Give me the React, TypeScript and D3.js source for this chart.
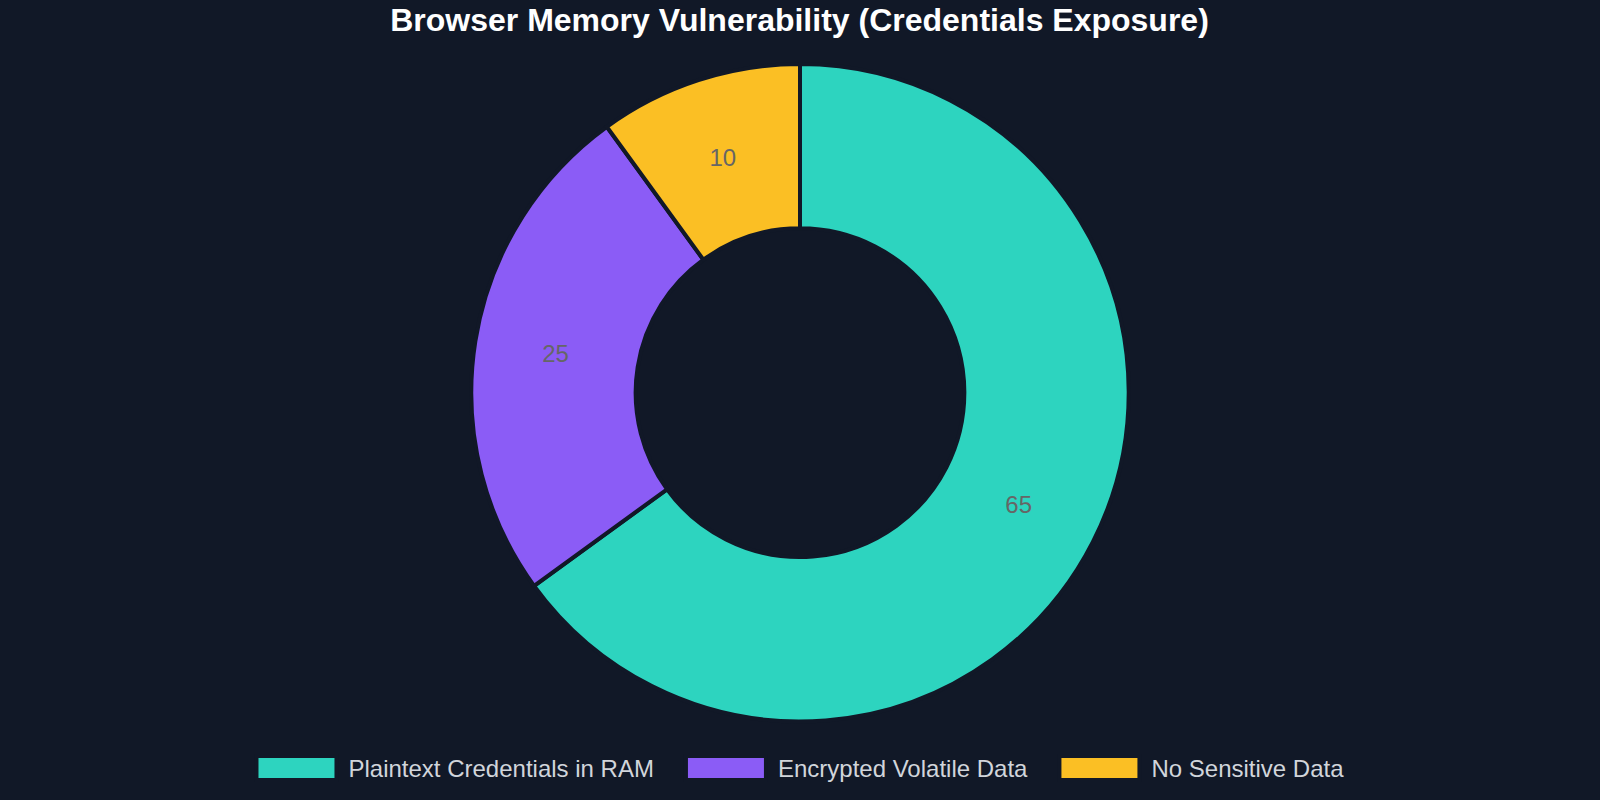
import React, { useEffect, useRef } from "react";
import * as d3 from "d3";

const categories = ["Plaintext Credentials in RAM", "Encrypted Volatile Data", "No Sensitive Data"];
const values = [65, 25, 10];
const colors = ["#2dd4bf", "#8b5cf6", "#fbbf24"];
const titleText = "Browser Memory Vulnerability (Credentials Exposure)";

const W = 1600;
const H = 800;
const BG = "#111827";
const FONT = "'Liberation Sans', Arial, Helvetica, sans-serif";

export default function App() {
  const ref = useRef<SVGSVGElement | null>(null);

  useEffect(() => {
    document.body.style.margin = "0";
    document.body.style.background = BG;
    const svg = d3.select(ref.current);
    svg.selectAll("*").remove();

    svg.append("rect").attr("width", W).attr("height", H).attr("fill", BG);

    // Title
    svg
      .append("text")
      .attr("x", W / 2 - 0.5)
      .attr("y", 30.5)
      .attr("text-anchor", "middle")
      .attr("font-family", FONT)
      .attr("font-weight", "bold")
      .attr("font-size", 32)
      .attr("fill", "#ffffff")
      .text(titleText);

    // Doughnut
    const cx = 800;
    const cy = 392.7;
    const outerR = 328.7;
    const innerR = outerR * 0.5;
    const data = categories.map((c, i) => ({ name: c, value: values[i], color: colors[i] }));
    const pie = d3
      .pie<{ name: string; value: number; color: string }>()
      .sort(null)
      .value((d) => d.value)
      .startAngle(0)
      .endAngle(Math.PI * 2);
    const arcs = pie(data);
    const arcGen = d3
      .arc<d3.PieArcDatum<{ name: string; value: number; color: string }>>()
      .innerRadius(innerR)
      .outerRadius(outerR);

    const g = svg.append("g").attr("transform", `translate(${cx},${cy})`);
    g.selectAll("path.slice")
      .data(arcs)
      .enter()
      .append("path")
      .attr("class", "slice")
      .attr("d", arcGen as any)
      .attr("fill", (d) => d.data.color)
      .attr("stroke", BG)
      .attr("stroke-width", 4)
      .attr("stroke-linejoin", "miter");

    g.selectAll("text.lbl")
      .data(arcs)
      .enter()
      .append("text")
      .attr("class", "lbl")
      .attr("x", (d) => arcGen.centroid(d)[0] - 1)
      .attr("y", (d) => arcGen.centroid(d)[1])
      .attr("dy", "0.33em")
      .attr("text-anchor", "middle")
      .attr("font-family", FONT)
      .attr("font-size", 24)
      .attr("fill", "#666666")
      .text((d) => String(d.data.value));

    // Legend
    const boxW = 80;
    const boxH = 24;
    const fontSize = 24;
    const pad = 32;
    const legendY = 768;
    const lg = svg.append("g");
    const items = data.map((d) => {
      const ig = lg.append("g");
      ig.append("rect")
        .attr("width", boxW)
        .attr("height", boxH)
        .attr("y", legendY - boxH / 2)
        .attr("fill", d.color)
        .attr("stroke", BG)
        .attr("stroke-width", 4);
      const t = ig
        .append("text")
        .attr("x", boxW + fontSize / 2)
        .attr("y", legendY + 8.6)
        .attr("font-family", FONT)
        .attr("font-size", fontSize)
        .attr("fill", "#d1d5db")
        .text(d.name);
      const tw = (t.node() as SVGTextElement).getComputedTextLength();
      return { ig, w: boxW + fontSize / 2 + tw };
    });
    const total = items.reduce((s, it) => s + it.w, 0) + pad * (items.length - 1);
    let x = W / 2 - total / 2;
    items.forEach((it) => {
      it.ig.attr("transform", `translate(${x},0)`);
      x += it.w + pad;
    });
  }, []);

  return (
    <svg
      ref={ref}
      width={W}
      height={H}
      viewBox={`0 0 ${W} ${H}`}
      style={{ display: "block", position: "absolute", left: 0, top: 0 }}
    />
  );
}
